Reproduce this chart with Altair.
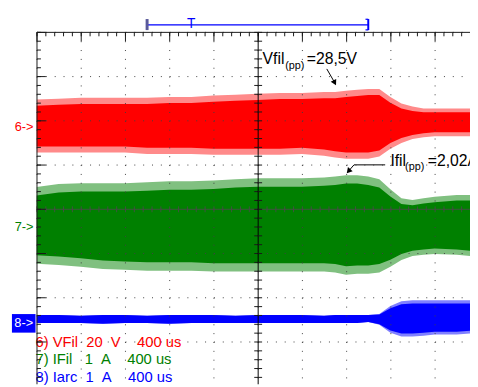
import altair as alt
import pandas as pd

# ---- data (time in microseconds relative to trigger, amplitude in screen divisions) ----
T_US = [-2000, -1800, -1600, -1400, -1200, -1000, -800, -600, -400, -200, 0, 200, 400,
        600, 700, 800, 900, 1000, 1100, 1200, 1300, 1400, 1500, 1600, 1800, 1920]

RED_TOP = [2.47, 2.49, 2.51, 2.51, 2.51, 2.51, 2.53, 2.53, 2.56, 2.58, 2.60, 2.62, 2.62,
           2.64, 2.64, 2.67, 2.69, 2.71, 2.71, 2.53, 2.38, 2.31, 2.27, 2.27, 2.27, 2.27]
RED_BOT = [1.27, 1.27, 1.27, 1.27, 1.27, 1.24, 1.24, 1.24, 1.22, 1.22, 1.22, 1.22, 1.24,
           1.20, 1.16, 1.13, 1.13, 1.13, 1.18, 1.36, 1.49, 1.58, 1.62, 1.64, 1.64, 1.64]
RED_CORE_TOP = [2.33, 2.35, 2.37, 2.37, 2.37, 2.37, 2.39, 2.39, 2.42, 2.44, 2.46, 2.48, 2.48,
                2.50, 2.50, 2.53, 2.55, 2.57, 2.57, 2.40, 2.27, 2.21, 2.18, 2.18, 2.18, 2.18]
RED_CORE_BOT = [1.41, 1.41, 1.41, 1.41, 1.41, 1.38, 1.38, 1.38, 1.36, 1.36, 1.36, 1.36, 1.38,
                1.34, 1.30, 1.27, 1.27, 1.27, 1.32, 1.49, 1.60, 1.67, 1.71, 1.73, 1.73, 1.73]

GREEN_TOP = [0.49, 0.56, 0.58, 0.58, 0.58, 0.60, 0.62, 0.62, 0.64, 0.67, 0.69, 0.69, 0.69,
             0.71, 0.73, 0.76, 0.76, 0.73, 0.67, 0.44, 0.24, 0.20, 0.24, 0.27, 0.31, 0.31]
GREEN_BOT = [-1.24, -1.27, -1.31, -1.36, -1.38, -1.40, -1.40, -1.40, -1.42, -1.42, -1.42, -1.42, -1.42,
             -1.42, -1.44, -1.49, -1.47, -1.47, -1.44, -1.31, -1.16, -1.07, -1.04, -1.02, -1.04, -1.07]
GREEN_CORE_TOP = [0.30, 0.37, 0.39, 0.39, 0.39, 0.41, 0.43, 0.43, 0.45, 0.48, 0.50, 0.50, 0.50,
                  0.52, 0.54, 0.57, 0.57, 0.54, 0.48, 0.28, 0.11, 0.08, 0.12, 0.15, 0.19, 0.19]
GREEN_CORE_BOT = [-1.05, -1.08, -1.12, -1.17, -1.19, -1.21, -1.21, -1.21, -1.23, -1.23, -1.23, -1.23, -1.23,
                  -1.23, -1.25, -1.30, -1.28, -1.28, -1.25, -1.15, -1.02, -0.95, -0.92, -0.90, -0.92, -0.95]

BLUE_TOP = [-2.40, -2.40, -2.42, -2.40, -2.40, -2.42, -2.40, -2.40, -2.40, -2.42, -2.40, -2.40, -2.40,
            -2.42, -2.40, -2.40, -2.40, -2.40, -2.38, -2.20, -2.09, -2.07, -2.07, -2.07, -2.07, -2.07]
BLUE_BOT = [-2.58, -2.58, -2.58, -2.60, -2.58, -2.58, -2.60, -2.58, -2.58, -2.58, -2.58, -2.58, -2.58,
            -2.58, -2.58, -2.58, -2.58, -2.56, -2.62, -2.80, -2.89, -2.89, -2.87, -2.84, -2.84, -2.82]
BLUE_CORE_TOP = [-2.40, -2.40, -2.42, -2.40, -2.40, -2.42, -2.40, -2.40, -2.40, -2.42, -2.40, -2.40, -2.40,
                 -2.42, -2.40, -2.40, -2.40, -2.40, -2.39, -2.25, -2.16, -2.14, -2.14, -2.14, -2.14, -2.14]
BLUE_CORE_BOT = [-2.58, -2.58, -2.58, -2.60, -2.58, -2.58, -2.60, -2.58, -2.58, -2.58, -2.58, -2.58, -2.58,
                 -2.58, -2.58, -2.58, -2.58, -2.56, -2.61, -2.75, -2.82, -2.82, -2.80, -2.78, -2.78, -2.76]

CH_LABELS = ["6->", "7->"]
CH_LABEL_Y = [1.84, -0.42]
CH_COLORS = ["#ff0000", "#008000"]
CH8_LABEL = "8->"
CH8_Y = -2.58

LEGEND_TEXT = ["6) VFil\u00a0\u00a020\u00a0\u00a0V\u00a0\u00a0\u00a0\u00a0400 us",
               "7) IFil\u00a0\u00a0\u00a01\u00a0\u00a0A\u00a0\u00a0\u00a0\u00a0400 us",
               "8) Iarc\u00a0\u00a01\u00a0\u00a0A\u00a0\u00a0\u00a0\u00a0400 us"]
LEGEND_Y = [-3.13, -3.51, -3.91]
LEGEND_COLORS = ["#ff0000", "#008000", "#0000ff"]

ANN_TEXT = ["Vfil", "(pp)", "=28,5V", "Ifil", "(pp)", "=2,02A"]
ANN_T = [44, 249, 444, 1200, 1333, 1538]
ANN_Y = [3.267, 3.156, 3.267, 0.978, 0.867, 0.978]
ANN_SIZE = [16, 11, 16, 16, 11, 16]

ARROW_ID = ["a", "a", "b", "b", "b"]
ARROW_T = [625, 693, 1153, 871, 827]
ARROW_Y = [3.162, 2.867, 0.993, 0.993, 0.867]
HEAD_T = [693, 827]
HEAD_Y = [2.867, 0.867]
HEAD_ANGLE = [152, 221]

WINDOW_T = [-1000, 1000]
TRIG_T = -600

# ---- layout ----
W, H = 441, 358
X_DOM = [-2000, 1920]
Y_DOM = [-3.956, 4.0]
CX = W * (0 - X_DOM[0]) / (X_DOM[1] - X_DOM[0])
CY = H * (Y_DOM[1] - 0) / (Y_DOM[1] - Y_DOM[0])
xs = alt.Scale(domain=X_DOM, nice=False, zero=False)
ys = alt.Scale(domain=Y_DOM, nice=False, zero=False)

MAJOR_X = list(range(-2000, 1921, 400))
MINOR_X = list(range(-2000, 1921, 80))
MAJOR_Y = list(range(-3, 5))
MINOR_Y = [round(-3.8 + 0.2 * i, 1) for i in range(40)]

FONT = "Liberation Sans"


def ax(orient, values, **kw):
    base = dict(labels=False, title=None, zindex=1, grid=False, ticks=True, domain=False,
                tickColor="#1a1a1a", tickWidth=1, domainColor="#1a1a1a", domainWidth=1)
    base.update(kw)
    return alt.Axis(orient=orient, values=values, **base)


grid_x = ax("bottom", MAJOR_X, grid=True, gridDash=[1, 8], gridColor="#404040", gridOpacity=1, ticks=False)
grid_y = ax("left", MAJOR_Y, grid=True, gridDash=[1, 8], gridColor="#404040", gridOpacity=1, ticks=False)
top_minor = ax("bottom", MINOR_X, offset=-H, tickSize=4, domain=True)
left_minor = ax("right", MINOR_Y, offset=-W, tickSize=4, domain=True)
top_major = ax("bottom", MAJOR_X, offset=-H, tickSize=9)
left_major = ax("right", MAJOR_Y, offset=-W, tickSize=9)
ch_down = ax("bottom", MINOR_X, offset=-(H - CY), tickSize=3, domain=True, domainColor="#4a4a4a",
             tickColor="#4a4a4a", domainOpacity=0.85, tickOpacity=0.85)
cv_left = ax("left", MINOR_Y, offset=-CX, tickSize=4, domain=True, domainColor="#000000")
ch_up = ax("top", MINOR_X, offset=-CY, tickSize=3, tickColor="#4a4a4a", tickOpacity=0.85)
cv_right = ax("right", MINOR_Y, offset=-(W - CX), tickSize=4)


def trace(top, bot, color, xaxis, yaxis):
    df = pd.DataFrame({"t": T_US, "top": top, "bot": bot})
    return alt.Chart(df).mark_area(color=color, clip=True, opacity=1).encode(
        x=alt.X("t:Q", scale=xs, axis=xaxis),
        y=alt.Y("top:Q", scale=ys, axis=yaxis),
        y2="bot:Q",
    )


red_out = trace(RED_TOP, RED_BOT, "#ff8a8a", grid_x, grid_y)
red_core = trace(RED_CORE_TOP, RED_CORE_BOT, "#ff0000", top_minor, left_minor)
green_out = trace(GREEN_TOP, GREEN_BOT, "#80c080", top_major, left_major)
green_core = trace(GREEN_CORE_TOP, GREEN_CORE_BOT, "#008000", ch_down, cv_left)
blue_out = trace(BLUE_TOP, BLUE_BOT, "#8080ff", ch_up, cv_right)
blue_core = trace(BLUE_CORE_TOP, BLUE_CORE_BOT, "#0000ff", None, None)

ch_df = pd.DataFrame({"lab": CH_LABELS, "y": CH_LABEL_Y, "c": CH_COLORS})
ch_text = alt.Chart(ch_df).mark_text(align="right", baseline="middle", font=FONT, fontSize=13).encode(
    x=alt.value(-3),
    y=alt.Y("y:Q", scale=ys, axis=None),
    text="lab:N",
    color=alt.Color("c:N", scale=None),
)

ch8_df = pd.DataFrame({"lab": [CH8_LABEL], "y": [CH8_Y], "top": [CH8_Y + 0.20], "bot": [CH8_Y - 0.22]})
ch8_box = alt.Chart(ch8_df).mark_rect(color="#0000ff").encode(
    x=alt.value(-25), x2=alt.value(-1),
    y=alt.Y("top:Q", scale=ys, axis=None), y2="bot:Q",
)
ch8_text = alt.Chart(ch8_df).mark_text(align="center", baseline="middle", font=FONT, fontSize=13,
                                       color="white").encode(
    x=alt.value(-13),
    y=alt.Y("y:Q", scale=ys, axis=None),
    text="lab:N",
)

leg_df = pd.DataFrame({"txt": LEGEND_TEXT, "y": LEGEND_Y, "c": LEGEND_COLORS})
legend = alt.Chart(leg_df).mark_text(align="left", baseline="alphabetic", font=FONT, fontSize=15).encode(
    x=alt.value(-1),
    y=alt.Y("y:Q", scale=ys, axis=None),
    text="txt:N",
    color=alt.Color("c:N", scale=None),
)

ann_df = pd.DataFrame({"txt": ANN_TEXT, "t": ANN_T, "y": ANN_Y, "s": ANN_SIZE})
ann = alt.Chart(ann_df).mark_text(align="left", baseline="alphabetic", font=FONT, color="black").encode(
    x=alt.X("t:Q", scale=xs, axis=None),
    y=alt.Y("y:Q", scale=ys, axis=None),
    text="txt:N",
    size=alt.Size("s:Q", scale=None),
)

arr_df = pd.DataFrame({"id": ARROW_ID, "t": ARROW_T, "y": ARROW_Y, "o": list(range(len(ARROW_T)))})
arrows = alt.Chart(arr_df).mark_line(color="black", strokeWidth=1).encode(
    x=alt.X("t:Q", scale=xs, axis=None),
    y=alt.Y("y:Q", scale=ys, axis=None),
    detail="id:N",
    order="o:Q",
)
head_df = pd.DataFrame({"t": HEAD_T, "y": HEAD_Y, "a": HEAD_ANGLE})
heads = alt.Chart(head_df).mark_point(shape="triangle", filled=True, color="black", size=40, opacity=1).encode(
    x=alt.X("t:Q", scale=xs, axis=None),
    y=alt.Y("y:Q", scale=ys, axis=None),
    angle=alt.Angle("a:Q", scale=None),
)

# trigger / window indicator above the graticule
win_df = pd.DataFrame({"t": [WINDOW_T[0]], "t2": [WINDOW_T[1]], "y": [4.16]})
win_line = alt.Chart(win_df).mark_rule(color="#0000ff", strokeWidth=1.2).encode(
    x=alt.X("t:Q", scale=xs, axis=None), x2="t2:Q",
    y=alt.Y("y:Q", scale=ys, axis=None),
)
br_df = pd.DataFrame({"t": WINDOW_T, "y": [4.04, 4.04], "y2": [4.29, 4.29], "c": ["#5a5a9a", "#0000ff"],
                      "w": [3, 2]})
brackets = alt.Chart(br_df).mark_rule().encode(
    x=alt.X("t:Q", scale=xs, axis=None),
    y=alt.Y("y:Q", scale=ys, axis=None), y2="y2:Q",
    color=alt.Color("c:N", scale=None),
    strokeWidth=alt.StrokeWidth("w:Q", scale=None),
)
hook_df = pd.DataFrame({"t": [WINDOW_T[1] - 25, WINDOW_T[1] - 25], "t2": [WINDOW_T[1], WINDOW_T[1]],
                        "y": [4.045, 4.285]})
hooks = alt.Chart(hook_df).mark_rule(color="#0000ff", strokeWidth=1.2).encode(
    x=alt.X("t:Q", scale=xs, axis=None), x2="t2:Q",
    y=alt.Y("y:Q", scale=ys, axis=None),
)
trig_df = pd.DataFrame({"t": [TRIG_T], "y": [4.17], "lab": ["T"]})
trig = alt.Chart(trig_df).mark_text(font=FONT, fontSize=14, color="#0000ff", baseline="middle").encode(
    x=alt.X("t:Q", scale=xs, axis=None),
    y=alt.Y("y:Q", scale=ys, axis=None),
    text="lab:N",
)

chart = alt.layer(
    red_out, red_core, green_out, green_core, blue_out, blue_core,
    ch_text, ch8_box, ch8_text, legend, ann, arrows, heads, win_line, brackets, hooks, trig,
).resolve_axis(x="independent", y="independent").properties(
    width=W, height=H,
    autosize=alt.AutoSizeParams(type="none"),
    padding={"left": 29, "top": 21, "right": 0, "bottom": 0},
    background="white",
).configure_view(stroke=None)

chart.save("out.html", embed_options={"renderer": "svg", "actions": False})
